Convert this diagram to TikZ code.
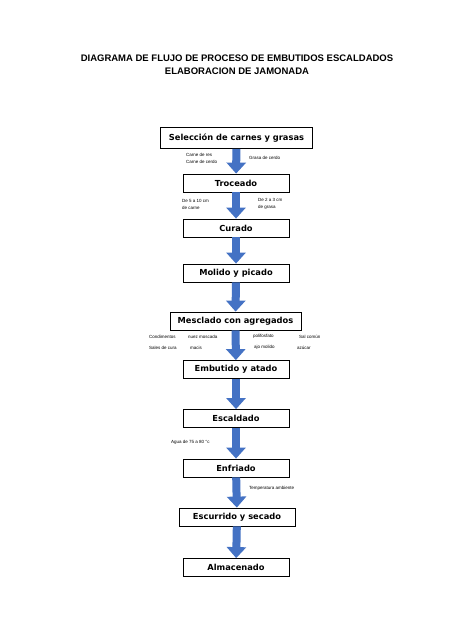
\documentclass[tikz,border=0pt]{standalone}
\usepackage{fontspec}
\setmainfont{Liberation Sans}
\newfontfamily\cajafont{DejaVu Sans}
\usetikzlibrary{arrows.meta}
\definecolor{azulflecha}{RGB}{68,114,196}

\tikzset{
  paso/.style={draw, line width=0.8pt, minimum width=106pt, minimum height=18pt,
    inner sep=0pt, font=\cajafont\bfseries\fontsize{8.3}{9}\selectfont},
  flecha/.style={azulflecha, line width=8pt, -{Triangle[width=19pt,length=11pt]}},
  nota/.style={anchor=west, inner sep=0pt, align=left,
    font=\fontsize{4.5}{7}\selectfont},
}

\begin{document}
\begin{tikzpicture}[x=1pt, y=-1pt]

  % page
  \fill[white] (0,0) rectangle (474,632);
  \useasboundingbox (0,0) rectangle (474,632);

  % title
  \node[align=center, font=\bfseries\fontsize{9.5}{13}\selectfont] (titulo) at (237,64.5)
    {DIAGRAMA DE FLUJO DE PROCESO DE EMBUTIDOS ESCALDADOS\\ELABORACION DE JAMONADA};

  % process steps
  \node[paso, minimum width=152pt, minimum height=21pt] (seleccion) at (236.5,138) {Selección de carnes y grasas};
  \node[paso] (troceado) at (236,183) {Troceado};
  \node[paso] (curado) at (236,228) {Curado};
  \node[paso] (molido) at (236,273) {Molido y picado};
  \node[paso, minimum width=131pt] (mesclado) at (235.5,321) {Mesclado con agregados};
  \node[paso] (embutido) at (236,369.5) {Embutido y atado};
  \node[paso] (escaldado) at (236,418.5) {Escaldado};
  \node[paso] (enfriado) at (236,468) {Enfriado};
  \node[paso, minimum width=116pt] (escurrido) at (237,517) {Escurrido y secado};
  \node[paso] (almacenado) at (236,567.5) {Almacenado};

  % arrows between steps
  \draw[flecha] (seleccion) -- (troceado);
  \draw[flecha] (troceado) -- (curado);
  \draw[flecha] (curado) -- (molido);
  \draw[flecha] (molido) -- (mesclado);
  \draw[flecha] (mesclado) -- (embutido);
  \draw[flecha] (embutido) -- (escaldado);
  \draw[flecha] (escaldado) -- (enfriado);
  \draw[flecha] (enfriado) -- (escurrido);
  \draw[flecha] (escurrido) -- (almacenado);

  % notes on the arrows
  \node[nota] (carnes) at (186,158.5) {Carne de res\\Carne de cerdo};
  \node[nota] (grasa) at (249,158) {Grasa de cerdo};
  \node[nota] (corte1) at (182,204.5) {De 5 a 10 cm\\de carne};
  \node[nota] (corte2) at (258,203.5) {De 2 a 3 cm\\de grasa};

  % additives
  \node[nota] (condim) at (149,336.5) {Condimentos};
  \node[nota] (nuez) at (188,336.5) {nuez moscada};
  \node[nota] (polif) at (253,336.5) {polifosfato};
  \node[nota] (sal) at (299,336.5) {Sal común};
  \node[nota] (sales) at (149,347.5) {Sales de cura};
  \node[nota] (macis) at (190,347.5) {macis};
  \node[nota] (ajo) at (254,347.5) {ajo molido};
  \node[nota] (azucar) at (297,347.5) {azúcar};

  \node[nota] (agua) at (171,442) {Agua de 75 a 80 °c};
  \node[nota] (temp) at (249,488) {Temperatura ambiente};

\end{tikzpicture}
\end{document}
